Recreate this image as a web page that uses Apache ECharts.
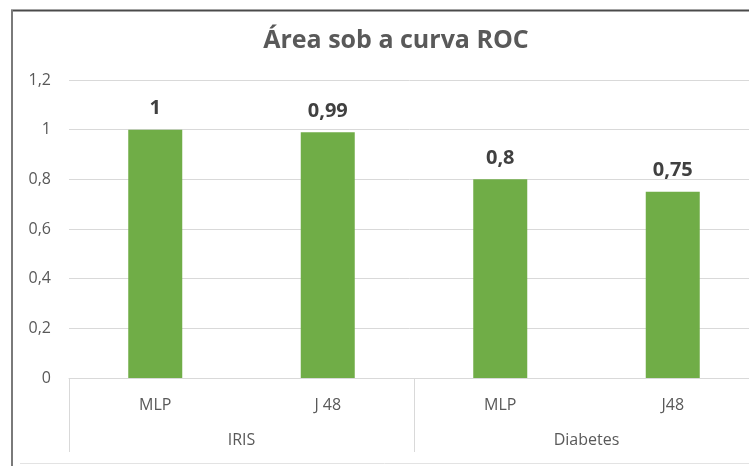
<!DOCTYPE html>
<html>
<head>
<meta charset="utf-8">
<script src="https://cdn.jsdelivr.net/npm/echarts@6/dist/echarts.min.js"></script>
<style>
  html, body { margin: 0; padding: 0; background: #fff; }
  #chart { width: 749px; height: 466px; }
</style>
</head>
<body>
<div id="chart"></div>
<script>
// Area under the ROC curve per classifier, grouped by dataset
const datasets = ['IRIS', 'Diabetes'];
const classifiers = ['MLP', 'J 48', 'MLP', 'J48'];
const aucValues = [1, 0.99, 0.8, 0.75];
const yTicks = [0, 0.2, 0.4, 0.6, 0.8, 1, 1.2];

const fmt = v => String(v).replace('.', ',');
const font = 'Open Sans, Liberation Sans, sans-serif';
const textGray = '#595959';
const lineGray = '#d9d9d9';

const chart = echarts.init(document.getElementById('chart'), null, { renderer: 'canvas' });

chart.setOption({
  animation: false,
  backgroundColor: '#ffffff',
  title: {
    text: 'Área sob a curva ROC',
    left: 391,
    top: 23,
    textAlign: 'center',
    textStyle: { fontFamily: font, fontSize: 25, fontWeight: 'bold', color: textGray }
  },
  grid: { left: 69, top: 80, width: 690, height: 298, containLabel: false, outerBoundsMode: 'none' },
  xAxis: [
    {
      type: 'category',
      data: classifiers,
      position: 'bottom',
      axisLine: { show: true, lineStyle: { color: lineGray, width: 1 } },
      axisTick: { show: false },
      axisLabel: { margin: 19, fontFamily: font, fontSize: 16, color: textGray }
    },
    {
      type: 'category',
      data: datasets,
      position: 'bottom',
      axisLine: { show: false },
      axisTick: { show: true, length: 74, lineStyle: { color: lineGray, width: 1 } },
      axisLabel: { margin: 54, fontFamily: font, fontSize: 16, color: textGray }
    }
  ],
  yAxis: {
    type: 'value',
    min: 0,
    max: 1.2,
    interval: 0.2,
    axisLine: { show: false },
    axisTick: { show: false },
    splitLine: { lineStyle: { color: lineGray, width: 1 } },
    axisLabel: {
      margin: 18,
      fontFamily: font,
      fontSize: 16,
      color: textGray,
      formatter: v => {
        const t = yTicks.find(k => Math.abs(k - v) < 1e-9);
        return fmt(t !== undefined ? t : v);
      }
    }
  },
  series: [{
    type: 'bar',
    xAxisIndex: 0,
    data: aucValues,
    barWidth: 54,
    itemStyle: { color: '#70ad47' },
    label: {
      show: true,
      position: 'top',
      distance: 11,
      fontFamily: font,
      fontSize: 20,
      fontWeight: 'bold',
      color: '#404040',
      formatter: p => fmt(p.value)
    }
  }],
  graphic: [
    // chart frame edges
    { type: 'line', shape: { x1: 11, y1: 10.5, x2: 749, y2: 10.5 }, style: { stroke: '#4a4a4a', lineWidth: 2 } },
    { type: 'line', shape: { x1: 12, y1: 10, x2: 12, y2: 466 }, style: { stroke: '#7a7a7a', lineWidth: 2 } },
    // sheet border below the chart
    { type: 'line', shape: { x1: 20, y1: 463.5, x2: 749, y2: 463.5 }, style: { stroke: '#e3e3e3', lineWidth: 1 } }
  ]
});
</script>
</body>
</html>
